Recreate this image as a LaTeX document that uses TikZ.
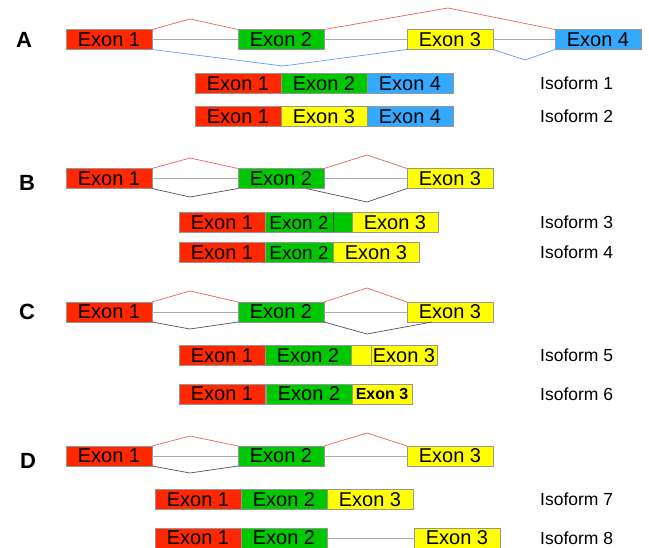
\documentclass[tikz,border=0pt]{standalone}
\usepackage{fontspec}
\setmainfont{Liberation Sans}
\usetikzlibrary{positioning,calc}
\definecolor{exred}{RGB}{255,40,0}
\definecolor{exgreen}{RGB}{0,200,0}
\definecolor{exyellow}{RGB}{255,255,0}
\definecolor{exblue}{RGB}{51,170,255}
\definecolor{boxgray}{RGB}{150,150,150}
\definecolor{spred}{RGB}{235,95,95}
\definecolor{spblue}{RGB}{100,150,255}
\definecolor{spgray}{RGB}{170,170,170}
\definecolor{spdark}{RGB}{80,80,80}
\begin{document}
\begin{tikzpicture}[x=1pt,y=-1pt]
            \tikzset{exon/.style = {draw=boxgray, line width=0.8pt, minimum height=20pt, minimum width=86pt,
                                    inner sep=0pt, outer sep=0pt, font=\fontsize{20}{20}\selectfont}}
            \tikzset{red/.style = {exon, fill=exred}, grn/.style = {exon, fill=exgreen},
                     yel/.style = {exon, fill=exyellow}, blu/.style = {exon, fill=exblue}}
            \tikzset{panel/.style = {font=\fontsize{22}{22}\selectfont\bfseries},
                     iso/.style = {anchor=west, inner sep=0pt, font=\fontsize{17.5}{17.5}\selectfont}}
            \tikzset{intron/.style = {draw=spgray, line width=0.9pt},
                     upper/.style = {draw=spred, line width=0.7pt},
                     lower/.style = {draw=spblue, line width=0.7pt},
                     alt/.style = {draw=spdark, line width=0.7pt}}
            \useasboundingbox (0,0) rectangle (649,548);
            % A
            \node[panel] (lA) at (24,40) {A};
            \node[red] (a1) at (109,39.5) {Exon 1};
            \node[grn] (a2) at (281,39.5) {Exon 2};
            \node[yel] (a3) at (450,39.5) {Exon 3};
            \node[blu] (a4) at (598,39.5) {Exon 4};
            \draw[intron] (a1) -- (a2) -- (a3) -- (a4);
            \draw[upper] (a1.north east) -- (190,19) -- (a2.north west);
            \draw[upper] (a2.north east) -- (448,8) -- (a4.north west);
            \draw[lower] (a1.south east) -- (283,66) -- (a3.south west);
            \draw[lower] (a3.south east) -- (525,60) -- (a4.south west);
            \node[red] (i1a) at (238,83.5) {Exon 1};
            \node[grn, right=0pt of i1a] (i1b) {Exon 2};
            \node[blu, right=0pt of i1b] (i1c) {Exon 4};
            \node[iso] (n1) at (540,83.5) {Isoform 1};
            \node[red] (i2a) at (238,116.5) {Exon 1};
            \node[yel, right=0pt of i2a] (i2b) {Exon 3};
            \node[blu, right=0pt of i2b] (i2c) {Exon 4};
            \node[iso] (n2) at (540,116.5) {Isoform 2};
            % B
            \node[panel] (lB) at (27,183) {B};
            \node[red] (b1) at (109,178.5) {Exon 1};
            \node[grn] (b2) at (281,178.5) {Exon 2};
            \node[yel] (b3) at (450,178.5) {Exon 3};
            \draw[intron] (b1) -- (b2) -- (b3);
            \draw[upper] (b1.north east) -- (190,158) -- (b2.north west);
            \draw[upper] (b2.north east) -- (367,155) -- (b3.north west);
            \draw[alt] (b1.south east) -- (190,197) -- (b2.south west);
            \draw[alt] ($(b2.south east)+(-18,0)$) -- (367,202) -- (b3.south west);
            \node[red] (i3a) at (222,222.5) {Exon 1};
            \node[grn, minimum width=68pt, font=\fontsize{19}{19}\selectfont, right=0pt of i3a] (i3b) {Exon 2};
            \node[grn, minimum width=19pt, right=0pt of i3b] (i3x) {};
            \node[yel, right=0pt of i3x] (i3c) {Exon 3};
            \draw[spdark, line width=0.9pt] (i3b.north east) -- (i3b.south east);
            \node[iso] (n3) at (540,222.5) {Isoform 3};
            \node[red] (i4a) at (222,252.5) {Exon 1};
            \node[grn, minimum width=68pt, font=\fontsize{19}{19}\selectfont, right=0pt of i4a] (i4b) {Exon 2};
            \node[yel, right=0pt of i4b] (i4c) {Exon 3};
            \node[iso] (n4) at (540,252.5) {Isoform 4};
            % C
            \node[panel] (lC) at (27,312) {C};
            \node[red] (c1) at (109,312) {Exon 1};
            \node[grn] (c2) at (281,312) {Exon 2};
            \node[yel] (c3) at (450,312) {Exon 3};
            \draw[intron] (c1) -- (c2) -- (c3);
            \draw[upper] (c1.north east) -- (190,291) -- (c2.north west);
            \draw[upper] (c2.north east) -- (367,288) -- (c3.north west);
            \draw[alt] (c1.south east) -- (190,329) -- (c2.south west);
            \draw[alt] (c2.south east) -- (367,334) -- ($(c3.south west)+(25,0)$);
            \node[red] (i5a) at (222,355.5) {Exon 1};
            \node[grn, right=0pt of i5a] (i5b) {Exon 2};
            \node[yel, minimum width=20pt, right=0pt of i5b] (i5x) {};
            \node[yel, minimum width=66pt, right=0pt of i5x] (i5c) {Exon 3};
            \node[iso] (n5) at (540,355.5) {Isoform 5};
            \node[red] (i6a) at (222,394) {Exon 1};
            \node[grn, right=1pt of i6a] (i6b) {Exon 2};
            \node[yel, minimum width=60pt, font=\fontsize{16}{16}\selectfont\bfseries, right=0pt of i6b] (i6c) {Exon 3};
            \node[iso] (n6) at (540,394) {Isoform 6};
            % D
            \node[panel] (lD) at (28,461) {D};
            \node[red] (d1) at (109,456) {Exon 1};
            \node[grn] (d2) at (281,456) {Exon 2};
            \node[yel] (d3) at (450,456) {Exon 3};
            \draw[intron] (d1) -- (d2) -- (d3);
            \draw[upper] (d1.north east) -- (190,436) -- (d2.north west);
            \draw[upper] (d2.north east) -- (367,433) -- (d3.north west);
            \draw[alt] (d1.south east) -- (190,473) -- (d2.south west);
            \node[red] (i7a) at (198,499.5) {Exon 1};
            \node[grn, right=0pt of i7a] (i7b) {Exon 2};
            \node[yel, right=0pt of i7b] (i7c) {Exon 3};
            \node[iso] (n7) at (540,499.5) {Isoform 7};
            \node[red] (i8a) at (198,538) {Exon 1};
            \node[grn, right=0pt of i8a] (i8b) {Exon 2};
            \node[yel] (i8c) at (457,538) {Exon 3};
            \draw[intron] (i8b) -- (i8c);
            \node[iso] (n8) at (540,538) {Isoform 8};
\end{tikzpicture}
\end{document}
